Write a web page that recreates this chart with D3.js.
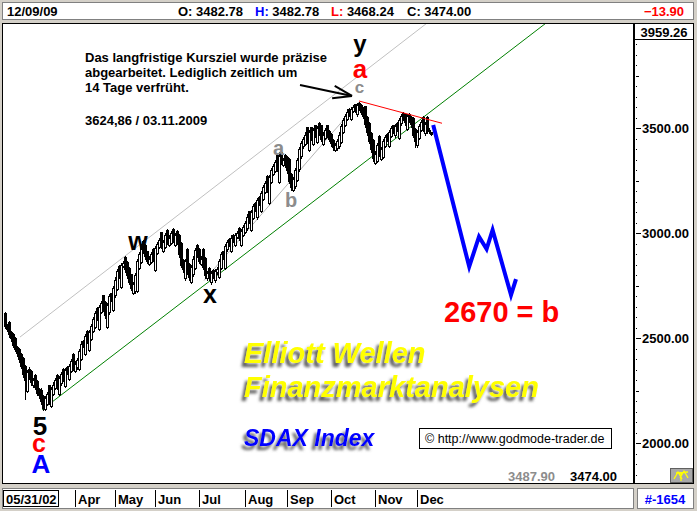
<!DOCTYPE html>
<html><head><meta charset="utf-8">
<script src="https://cdn.jsdelivr.net/npm/d3@7"></script>
<style>
html,body{margin:0;padding:0;background:#d4d0c8;overflow:hidden;}
svg{display:block;}
text{font-family:"Liberation Sans",Arial,Helvetica,sans-serif;}
</style></head><body>
<svg id="c" width="697" height="511"></svg>
<script>
// ---- daily SDAX candles (trading-day index 0..213) ----
const opens = [2620,2565,2576,2530,2520,2500,2460,2450,2426,2406,
 2370,2250,2356,2346,2276,2326,2296,2260,2256,2226,
 2165,2189,2276,2180,2236,2264,2326,2234,2286,2354,
 2274,2364,2306,2346,2424,2344,2361,2356,2401,2486,
 2426,2534,2446,2496,2534,2556,2644,2546,2626,2704,
 2674,2556,2624,2714,2636,2704,2736,2844,2746,2844,
 2886,2864,2834,2804,2716,2724,2726,2836,2864,2964,
 2946,2914,2856,2864,2924,2826,2906,2934,3004,2916,
 2934,3016,2944,2956,3020,2946,3010,2990,2954,2874,
 2786,2924,2854,2770,2804,2836,2944,2926,2856,2924,
 2884,2786,2834,2766,2824,2776,2814,2794,2836,2914,
 2836,2924,2974,2916,2994,2946,2984,3024,2946,2994,
 3006,3024,3104,3016,3074,3144,3076,3174,3106,3164,
 3196,3274,3146,3244,3284,3296,3374,3246,3385,3326,
 3374,3364,3354,3284,3205,3224,3254,3304,3366,3414,
 3426,3504,3396,3504,3426,3514,3436,3524,3514,3426,
 3454,3514,3486,3474,3446,3396,3404,3414,3434,3484,
 3516,3544,3594,3546,3584,3614,3566,3620,3610,3596,
 3604,3556,3524,3476,3444,3336,3344,3464,3356,3364,
 3416,3474,3416,3464,3514,3466,3524,3456,3524,3574,
 3566,3496,3570,3556,3550,3496,3420,3454,3494,3556,
 3476,3554,3492,3482.78];
const highs = [2625,2570,2581,2535,2525,2505,2465,2455,2431,2411,
 2375,2350,2361,2351,2310,2331,2301,2265,2261,2231,
 2225,2245,2280,2270,2290,2310,2330,2320,2340,2358,
 2360,2368,2380,2400,2428,2390,2408,2450,2485,2490,
 2520,2538,2540,2570,2600,2630,2648,2660,2680,2708,
 2678,2670,2710,2718,2750,2790,2830,2848,2860,2870,
 2890,2868,2838,2808,2770,2810,2880,2910,2950,2968,
 2950,2918,2890,2910,2928,2940,2960,2980,3008,2970,
 3000,3020,2990,3010,3024,3000,3014,2995,2958,2878,
 2880,2928,2858,2850,2890,2930,2948,2930,2890,2928,
 2888,2820,2838,2820,2828,2830,2840,2880,2910,2918,
 2950,2970,2978,2990,2998,3000,3010,3028,3020,3040,
 3060,3090,3108,3110,3140,3148,3170,3178,3200,3230,
 3250,3278,3280,3310,3330,3350,3378,3385,3390,3360,
 3378,3368,3358,3288,3270,3310,3360,3410,3440,3460,
 3480,3508,3490,3508,3500,3518,3510,3528,3518,3480,
 3500,3518,3490,3478,3450,3430,3450,3480,3520,3550,
 3570,3590,3598,3600,3610,3618,3620,3624.86,3614,3600,
 3608,3560,3528,3480,3448,3390,3430,3468,3410,3450,
 3470,3478,3490,3510,3518,3520,3528,3550,3570,3578,
 3570,3570,3574,3560,3554,3500,3490,3520,3540,3560,
 3530,3558,3502,3482.78];
const lows = [2548,2535,2508,2488,2458,2438,2418,2388,2358,2318,
 2210,2245,2308,2278,2270,2258,2228,2218,2188,2158,
 2158,2184,2188,2175,2230,2258,2258,2228,2280,2298,
 2268,2328,2300,2340,2348,2338,2355,2350,2395,2458,
 2420,2478,2440,2490,2528,2550,2588,2540,2620,2628,
 2598,2550,2618,2678,2630,2698,2730,2788,2740,2838,
 2818,2788,2758,2728,2710,2718,2720,2830,2858,2908,
 2878,2858,2850,2858,2868,2820,2900,2928,2928,2910,
 2928,2948,2938,2950,2958,2940,2948,2888,2838,2818,
 2780,2808,2778,2765,2798,2830,2888,2858,2850,2828,
 2788,2780,2776,2760,2788,2770,2808,2788,2830,2878,
 2830,2918,2938,2910,2958,2940,2978,2968,2940,2988,
 3000,3018,3048,3010,3068,3106,3070,3136,3100,3158,
 3190,3196,3140,3238,3278,3290,3298,3240,3328,3320,
 3318,3288,3238,3205,3200,3218,3248,3298,3360,3408,
 3420,3428,3390,3446,3420,3458,3430,3468,3438,3420,
 3448,3458,3438,3418,3398,3390,3398,3408,3428,3478,
 3510,3538,3558,3540,3578,3576,3560,3588,3568,3548,
 3508,3468,3428,3388,3345,3330,3338,3366,3350,3358,
 3410,3438,3410,3458,3478,3460,3486,3450,3518,3538,
 3518,3490,3528,3508,3458,3410,3410,3448,3488,3488,
 3470,3478,3476,3468.24];
const closes = [2560,2545,2520,2500,2470,2450,2430,2400,2370,2330,
 2300,2340,2320,2290,2300,2270,2240,2230,2200,2170,
 2215,2235,2200,2260,2280,2300,2270,2310,2330,2310,
 2350,2340,2370,2390,2360,2380,2395,2440,2475,2470,
 2510,2490,2530,2560,2590,2620,2600,2650,2670,2640,
 2610,2660,2700,2690,2740,2780,2820,2800,2850,2860,
 2830,2800,2770,2740,2760,2800,2870,2900,2940,2920,
 2890,2870,2880,2900,2880,2930,2950,2970,2940,2960,
 2990,2960,2980,3000,2970,2990,2960,2900,2850,2830,
 2870,2820,2790,2840,2880,2920,2900,2870,2880,2840,
 2800,2810,2790,2810,2800,2820,2830,2870,2900,2890,
 2940,2960,2950,2980,2970,2990,3000,2980,3010,3030,
 3050,3080,3060,3100,3130,3120,3160,3150,3190,3220,
 3240,3210,3270,3300,3320,3340,3310,3370,3340,3350,
 3330,3300,3250,3220,3260,3300,3350,3400,3430,3450,
 3470,3440,3480,3460,3490,3470,3500,3480,3450,3470,
 3490,3470,3450,3430,3410,3420,3440,3470,3510,3540,
 3560,3580,3570,3590,3600,3590,3610,3600,3580,3560,
 3520,3480,3440,3400,3360,3380,3420,3380,3400,3440,
 3460,3450,3480,3500,3490,3510,3500,3540,3560,3550,
 3530,3560,3540,3520,3470,3440,3480,3510,3530,3500,
 3520,3490,3487.90,3474.00];

const lastDate = "12/09/09";
const firstDate = "05/31/02";
const monthLabels = ["Apr","May","Jun","Jul","Aug","Sep","Oct","Nov","Dec"];
const monthStartIdx = [36,56,76,98,121,142,164,186,207];
const axisMax = 3959.26;
const recordCount = "#-1654";

// trend lines [index, price]
const greenLine = [[18.5,2160],[270.5,4001]];
const greyUpper = [[7.5,2506],[211,4001]];
const greyInner = [[99.5,2775],[177,3625]];
const redLine = [[177,3630],[218.5,3524]];
// projection
const projIdx = [214.1,232.1,237,240.8,243.8,253,255.5];
const projVal = [3516,2841,2984,2925,3016,2706,2782];
const arrowFrom = [147.5,3706], arrowTo = [173.5,3654];

// wave labels: text, index, price
const waveLabels = [
 ["y",177.5,3863],["a",177.5,3740],["c",177.2,3668],
 ["w",66.5,2920],["x",102.5,2668],
 ["a",136.8,3373],["b",143,3125],
 ["5",17.5,2040],["c",17,1959],["A",18,1859]
];
const waveStyle = [
 {fill:"#000",size:24},{fill:"#ff0000",size:26},{fill:"#8c8c8c",size:17},
 {fill:"#000",size:25},{fill:"#000",size:25},
 {fill:"#8c8c8c",size:20},{fill:"#8c8c8c",size:20},
 {fill:"#000",size:26},{fill:"#ff0000",size:25},{fill:"#0000ff",size:26}
];

const svg = d3.select("#c");
const x = d3.scaleLinear().domain([0,213]).range([5,431]);
const y = d3.scaleLinear().domain([1800,4000]).range([485.3,23.3]);

svg.append("rect").attr("width",697).attr("height",511).attr("fill","#d4d0c8");
const defs = svg.append("defs");
defs.append("clipPath").attr("id","pc").append("rect").attr("x",3).attr("y",24).attr("width",631).attr("height",459);
const f = defs.append("filter").attr("id","sh").attr("x","-10%").attr("y","-40%").attr("width","130%").attr("height","200%");
f.append("feGaussianBlur").attr("in","SourceAlpha").attr("stdDeviation",1.8).attr("result","bl");
f.append("feOffset").attr("in","bl").attr("dx",-3).attr("dy",4).attr("result","of");
f.append("feFlood").attr("flood-color","#5a5a5a");
f.append("feComposite").attr("in2","of").attr("operator","in").attr("result","sd");
const fm = f.append("feMerge"); fm.append("feMergeNode").attr("in","sd"); fm.append("feMergeNode").attr("in","SourceGraphic");

// top bar
svg.append("rect").attr("x",2.5).attr("y",2.5).attr("width",691).attr("height",17).attr("fill","#fff").attr("stroke","#808080");
const last = closes.length-1;
const fmt = d3.format(".2f");
const tb = svg.append("g").attr("font-size",13).attr("font-weight","bold");
tb.append("text").attr("x",7).attr("y",15.5).text(lastDate);
const ohlc = [["O:",opens[last],"#000",178],["H:",highs[last],"#0000ff",255],["L:",lows[last],"#ff0000",331],["C:",closes[last],"#000",407]];
ohlc.forEach(d=>{
  const t = tb.append("text").attr("x",d[3]).attr("y",15.5);
  t.append("tspan").attr("fill",d[2]).text(d[0]);
  t.append("tspan").attr("fill","#000").text(" "+fmt(d[1]));
});
tb.append("text").attr("x",684).attr("y",15.5).attr("text-anchor","end").attr("fill","#ff0000").text(fmt(closes[last]-closes[last-1]));

// panels
svg.append("rect").attr("x",2.5).attr("y",23.5).attr("width",631).attr("height",460).attr("fill","#fff").attr("stroke","#000");
svg.append("rect").attr("x",634.5).attr("y",23.5).attr("width",59).attr("height",460).attr("fill","#fff").attr("stroke","#000");

const pg = svg.append("g").attr("clip-path","url(#pc)");
const line = d3.line().x(d=>x(d[0])).y(d=>y(d[1]));

pg.append("path").attr("d",line(greyUpper)).attr("stroke","#c0c0c0").attr("fill","none").attr("stroke-width",1);
pg.append("path").attr("d",line(greenLine)).attr("stroke","#008000").attr("fill","none").attr("stroke-width",1);
pg.append("path").attr("d",line(greyInner)).attr("stroke","#b4b4b4").attr("fill","none").attr("stroke-width",1);

// candles
const idx = d3.range(closes.length);
const cg = pg.append("g").attr("shape-rendering","crispEdges");
cg.selectAll("line").data(idx).join("line")
  .attr("x1",i=>Math.round(x(i))+0.5).attr("x2",i=>Math.round(x(i))+0.5)
  .attr("y1",i=>Math.round(y(highs[i]))).attr("y2",i=>Math.round(y(lows[i]))+1)
  .attr("stroke","#000");
cg.selectAll("rect").data(idx).join("rect")
  .attr("x",i=>Math.round(x(i))-0.5).attr("width",2)
  .attr("y",i=>Math.round(y(Math.max(opens[i],closes[i])))+0.5)
  .attr("height",i=>Math.max(0,Math.round(y(Math.min(opens[i],closes[i])))-Math.round(y(Math.max(opens[i],closes[i])))))
  .attr("fill",i=>closes[i]>=opens[i]?"#fff":"#000").attr("stroke","#000");

pg.append("path").attr("d",line(redLine)).attr("stroke","#ff0000").attr("fill","none").attr("stroke-width",1);

// projection
pg.append("path").attr("d",line(projIdx.map((d,i)=>[d,projVal[i]]))).attr("stroke","#0000ff").attr("fill","none").attr("stroke-width",4).attr("stroke-linejoin","miter");

// arrow
const ax0=x(arrowFrom[0]), ay0=y(arrowFrom[1]), ax1=x(arrowTo[0]), ay1=y(arrowTo[1]);
const ang=Math.atan2(ay1-ay0,ax1-ax0);
const ag = pg.append("g").attr("stroke","#000").attr("stroke-width",2).attr("fill","none");
ag.append("line").attr("x1",ax0).attr("y1",ay0).attr("x2",ax1).attr("y2",ay1);
[0.32,-0.32].forEach(a=>{
  ag.append("line").attr("x1",ax1).attr("y1",ay1)
    .attr("x2",ax1-20*Math.cos(ang+a)).attr("y2",ay1-20*Math.sin(ang+a));
});

// wave labels
pg.selectAll("text.w").data(waveLabels).join("text").attr("class","w")
  .attr("x",d=>x(d[1])).attr("y",d=>y(d[2])).attr("text-anchor","middle")
  .attr("font-weight","bold").attr("font-size",(d,i)=>waveStyle[i].size)
  .attr("fill",(d,i)=>waveStyle[i].fill).text(d=>d[0]);

// annotation paragraph
const para = ["Das langfristige Kursziel wurde präzise","abgearbeitet. Lediglich zeitlich um","14 Tage verfrüht."];
const ptg = svg.append("g").attr("font-size",13).attr("font-weight","bold").attr("fill","#000");
para.forEach((t,i)=>ptg.append("text").attr("x",85).attr("y",61.5+15*i).text(t));
ptg.append("text").attr("x",85).attr("y",124.5).text("3624,86 / 03.11.2009");

// target
svg.append("text").attr("x",444).attr("y",322).attr("font-size",29).attr("font-weight","bold").attr("fill","#ff0000").text("2670 = b");

// branding
const br = svg.append("g").attr("font-weight","bold").attr("font-style","italic").attr("filter","url(#sh)");
br.append("text").attr("x",244).attr("y",363).attr("font-size",29).attr("fill","#ffff00").text("Elliott Wellen");
br.append("text").attr("x",244).attr("y",397).attr("font-size",29).attr("fill","#ffff00").text("Finanzmarktanalysen");
br.append("text").attr("x",244).attr("y",446).attr("font-size",23).attr("fill","#0000ff").text("SDAX Index");

svg.append("rect").attr("x",419.5).attr("y",428.5).attr("width",192).attr("height",20).attr("fill","#fff").attr("stroke","#000");
svg.append("text").attr("x",425).attr("y",443).attr("font-size",12.5).attr("fill","#000").text("\u00A9 http://www.godmode-trader.de");

// last values bottom
svg.append("text").attr("x",555).attr("y",481).attr("text-anchor","end").attr("font-size",13).attr("font-weight","bold").attr("fill","#8c8c8c").text(fmt(closes[last-1]));
svg.append("text").attr("x",617).attr("y",481).attr("text-anchor","end").attr("font-size",13).attr("font-weight","bold").attr("fill","#000").text(fmt(closes[last]));

// right axis
const ra = svg.append("g").attr("transform","translate(636,0)");
const minorVals = d3.range(1850,3951,50).filter(v=>v%250!==0);
const midVals = d3.range(2250,3951,500);
const majVals = d3.range(2000,3501,500);
ra.append("g").call(d3.axisRight(y).tickValues(minorVals).tickSize(1).tickFormat("")).call(g=>g.select(".domain").remove());
ra.append("g").call(d3.axisRight(y).tickValues(midVals).tickSize(3).tickFormat("")).call(g=>g.select(".domain").remove());
ra.append("g").call(d3.axisRight(y).tickValues(majVals).tickSize(5).tickPadding(1).tickFormat(fmt))
  .call(g=>g.select(".domain").remove())
  .call(g=>g.selectAll("text").attr("font-size",13).attr("font-weight","bold").attr("font-family","Liberation Sans, Arial, sans-serif").attr("fill","#000"));
ra.selectAll("line").attr("stroke","#000").attr("shape-rendering","crispEdges");

svg.append("rect").attr("x",634.5).attr("y",23.5).attr("width",59).attr("height",16).attr("fill","#fff").attr("stroke","#000");
svg.append("text").attr("x",664).attr("y",36.5).attr("text-anchor","middle").attr("font-size",13).attr("font-weight","bold").text(fmt(axisMax));

// icon
svg.append("rect").attr("x",670.5).attr("y",468.5).attr("width",22).attr("height",14).attr("fill","#a8a8a8").attr("stroke","#606060");
svg.append("path").attr("d","M674,479 L678,472 L682,479 M680,478 L684,471 L688,478 M676,473 L688,472 M681,473 L681,481").attr("stroke","#ffff00").attr("stroke-width",1.3).attr("fill","none");

// bottom bar
svg.append("rect").attr("x",2.5).attr("y",488.5).attr("width",631).attr("height",20).attr("fill","#fff").attr("stroke","#808080");
svg.append("rect").attr("x",3.5).attr("y",490.5).attr("width",55).attr("height",16).attr("fill","#fff").attr("stroke","#000");
const bb = svg.append("g").attr("font-size",13).attr("font-weight","bold");
bb.append("text").attr("x",6).attr("y",503.5).text(firstDate);
const sep = monthStartIdx.map((d,i)=>({i:d,l:monthLabels[i]}));
bb.selectAll("line").data(sep).join("line")
  .attr("x1",d=>Math.round(x(d.i))-1.5).attr("x2",d=>Math.round(x(d.i))-1.5)
  .attr("y1",490).attr("y2",507).attr("stroke","#000");
bb.selectAll("text.m").data(sep).join("text").attr("class","m")
  .attr("x",d=>Math.round(x(d.i))+1).attr("y",503.5).text(d=>d.l);
svg.append("rect").attr("x",637.5).attr("y",488.5).attr("width",56).attr("height",20).attr("fill","#fff").attr("stroke","#808080");
svg.append("text").attr("x",665).attr("y",503.5).attr("text-anchor","middle").attr("font-size",13).attr("font-weight","bold").attr("fill","#0000ff").text(recordCount);
</script>
</body></html>
